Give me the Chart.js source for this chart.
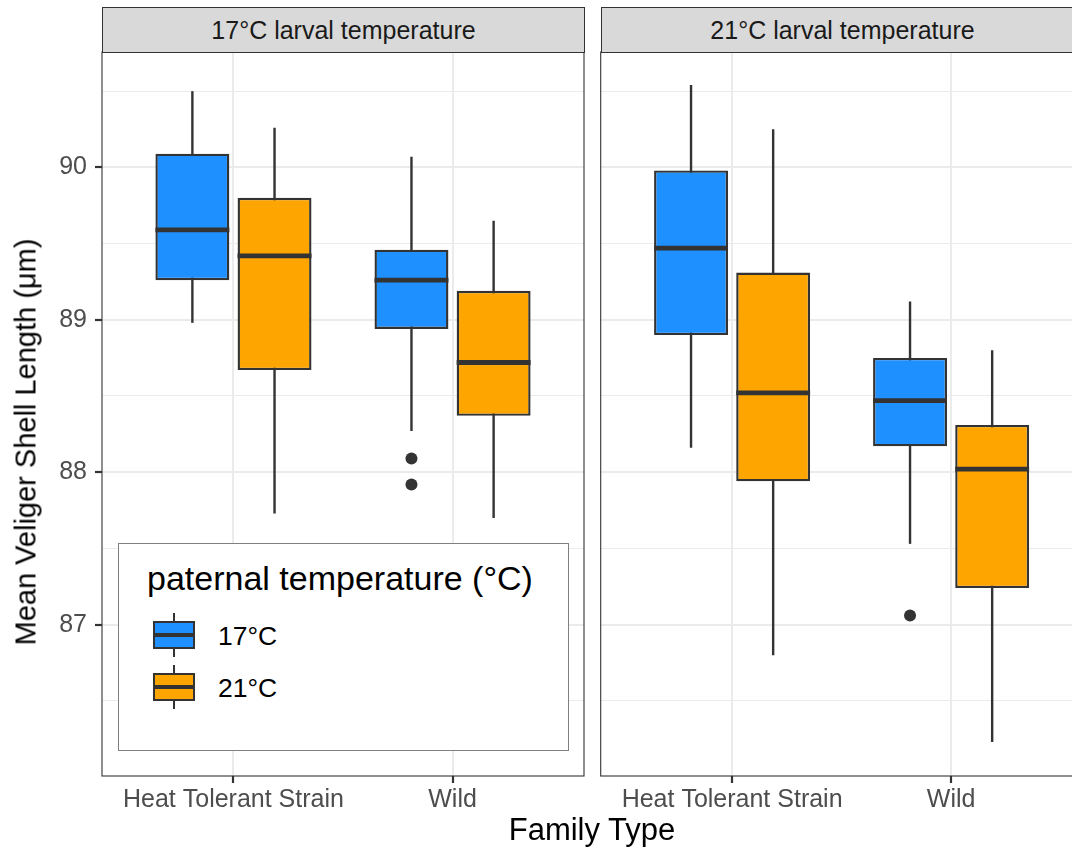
<!DOCTYPE html>
<html>
<head>
<meta charset="utf-8">
<script src="https://cdn.jsdelivr.net/npm/chart.js@4.4.1/dist/chart.umd.min.js"></script>
<style>
  html, body { margin:0; padding:0; width:1072px; height:852px; overflow:hidden; background:#fff;
    font-family:"Liberation Sans", Arial, Helvetica, sans-serif; }
  canvas { position:absolute; top:0; }
  .strip { position:absolute; top:7px; height:46px; background:#D9D9D9; border:1px solid #333;
    box-sizing:border-box; text-align:center; font-size:25px; line-height:44px; color:#1A1A1A; white-space:nowrap; }
  #ytitle { position:absolute; left:26px; top:442px; transform:translate(-50%,-50%) rotate(-90deg);
    font-size:29px; color:#000; white-space:nowrap; }
  #xtitle { position:absolute; left:592px; top:814px; transform:translateX(-50%); font-size:31px; line-height:31px;
    color:#000; white-space:nowrap; }
  #legend { position:absolute; left:118px; top:543px; width:451px; height:208px; background:#fff;
    border:1.4px solid #808080; box-sizing:border-box; }
  #legend .lt { position:absolute; left:28px; top:17px; font-size:34px; line-height:34px; color:#000; white-space:nowrap; }
  #legend .lab { position:absolute; left:99px; font-size:26.5px; line-height:26.5px; color:#000; white-space:nowrap; }
  #legend .wh { position:absolute; width:2.4px; background:#333; }
  #legend .bx { position:absolute; border:2.2px solid #333; box-sizing:border-box; }
  #legend .md { position:absolute; height:3.6px; background:#333; }
</style>
</head>
<body>
<canvas id="c1"></canvas>
<canvas id="c2"></canvas>
<div class="strip" id="s1" style="left:102px;width:483px;"></div>
<div class="strip" id="s2" style="left:601px;width:483px;"></div>
<div id="ytitle"></div>
<div id="xtitle"></div>
<div id="legend"></div>

<script>
// ---------------- data ----------------
const categories = ["Heat Tolerant Strain", "Wild"];
const panelTitles = ["17°C larval temperature", "21°C larval temperature"];
const seriesNames = ["17°C", "21°C"];
const seriesColors = ["#1E90FF", "#FFA500"];
const yTitle = "Mean Veliger Shell Length (μm)";
const xTitle = "Family Type";
const legendTitle = "paternal temperature (°C)";

// [lower whisker, Q1, median, Q3, upper whisker] per category
const larv17_pat17 = [[88.98, 89.26, 89.59, 90.09, 90.50], [88.27, 88.94, 89.26, 89.46, 90.07]];
const larv17_pat21 = [[87.73, 88.67, 89.42, 89.80, 90.26], [87.70, 88.37, 88.72, 89.19, 89.65]];
const larv21_pat17 = [[88.16, 88.90, 89.47, 89.98, 90.54], [87.53, 88.17, 88.47, 88.75, 89.12]];
const larv21_pat21 = [[86.80, 87.94, 88.52, 89.31, 90.25], [86.23, 87.24, 88.02, 88.31, 88.80]];
// outliers per category
const larv17_pat17_out = [[], [88.09, 87.92]];
const larv17_pat21_out = [[], []];
const larv21_pat17_out = [[], [87.06]];
const larv21_pat21_out = [[], []];

const yMin = 86.007, yMax = 90.757;

// ---------------- styling ----------------
const FONT = '"Liberation Sans", Arial, Helvetica, sans-serif';
const LINE = '#333333';

const boxParts = {
  id: 'boxParts',
  beforeDatasetsDraw(chart) {
    const ctx = chart.ctx, ys = chart.scales.y;
    ctx.save();
    ctx.strokeStyle = LINE; ctx.lineWidth = 2.4; ctx.lineCap = 'butt';
    chart.data.datasets.forEach((ds, i) => {
      chart.getDatasetMeta(i).data.forEach((el, j) => {
        const s = ds.stats[j];
        ctx.beginPath();
        ctx.moveTo(el.x, ys.getPixelForValue(s[0]));
        ctx.lineTo(el.x, ys.getPixelForValue(s[4]));
        ctx.stroke();
      });
    });
    ctx.restore();
  },
  afterDatasetsDraw(chart) {
    const ctx = chart.ctx, ys = chart.scales.y;
    ctx.save();
    chart.data.datasets.forEach((ds, i) => {
      chart.getDatasetMeta(i).data.forEach((el, j) => {
        const s = ds.stats[j];
        const half = el.width / 2;
        ctx.strokeStyle = LINE; ctx.lineWidth = 4.8; ctx.lineCap = 'butt';
        const my = ys.getPixelForValue(s[2]);
        ctx.beginPath(); ctx.moveTo(el.x - half, my); ctx.lineTo(el.x + half, my); ctx.stroke();
        ctx.fillStyle = LINE;
        (ds.outliers[j] || []).forEach(v => {
          ctx.beginPath(); ctx.arc(el.x, ys.getPixelForValue(v), 6, 0, Math.PI * 2); ctx.fill();
        });
      });
    });
    ctx.restore();
  },
  afterDraw(chart) {
    const a = chart.chartArea, ctx = chart.ctx;
    ctx.save();
    ctx.strokeStyle = LINE; ctx.lineWidth = 1.1;
    ctx.strokeRect(a.left, a.top, a.right - a.left, a.bottom - a.top);
    ctx.restore();
  }
};

function makeDataset(name, color, stats, outs) {
  return {
    label: name,
    data: stats.map((s, i) => ({ x: i + 1, y: [s[1], s[3]] })),
    stats: stats,
    outliers: outs,
    backgroundColor: color,
    borderColor: LINE,
    borderWidth: 2.4,
    borderSkipped: false,
    categoryPercentage: 0.75,
    barPercentage: 0.9
  };
}

function makeChart(id, left, width, datasets, showY, padLeft, padRight) {
  const cv = document.getElementById(id);
  cv.width = width; cv.height = 852;
  cv.style.left = left + 'px';
  cv.style.width = width + 'px'; cv.style.height = '852px';
  return new Chart(cv, {
    type: 'bar',
    data: { datasets },
    plugins: [boxParts],
    options: {
      responsive: false,
      animation: false,
      events: [],
      layout: { padding: { top: 52, left: padLeft, right: padRight, bottom: 0 } },
      plugins: { legend: { display: false }, tooltip: { enabled: false } },
      scales: {
        x: {
          type: 'linear', min: 0.4, max: 2.6, offset: false,
          afterFit: s => { s.height = 76; },
          border: { display: false },
          grid: { offset: false, color: '#EBEBEB', lineWidth: 2, drawTicks: true, tickLength: 7, tickColor: LINE, tickWidth: 2.2 },
          ticks: {
            stepSize: 1, includeBounds: false, autoSkip: false, maxRotation: 0, padding: 2,
            color: '#4D4D4D', font: { family: FONT, size: 25 },
            callback: v => (Number.isInteger(v) && categories[v - 1]) ? categories[v - 1] : ''
          }
        },
        y: {
          type: 'linear', min: yMin, max: yMax,
          afterFit: s => { s.width = showY ? 102 : 0; },
          border: { display: false },
          grid: {
            color: '#EBEBEB',
            lineWidth: c => (c.tick && Number.isInteger(c.tick.value)) ? 2 : 1.1,
            drawTicks: showY, tickLength: 7, tickWidth: 2.2,
            tickColor: c => (c.tick && Number.isInteger(c.tick.value)) ? LINE : 'rgba(0,0,0,0)'
          },
          ticks: {
            display: showY, stepSize: 0.5, includeBounds: false, padding: 8,
            color: '#4D4D4D', font: { family: FONT, size: 25 },
            callback: v => Number.isInteger(v) ? String(v) : ''
          }
        }
      }
    }
  });
}

makeChart('c1', 0, 590, [
  makeDataset(seriesNames[0], seriesColors[0], larv17_pat17, larv17_pat17_out),
  makeDataset(seriesNames[1], seriesColors[1], larv17_pat21, larv17_pat21_out)
], true, 0, 6);

makeChart('c2', 590, 500, [
  makeDataset(seriesNames[0], seriesColors[0], larv21_pat17, larv21_pat17_out),
  makeDataset(seriesNames[1], seriesColors[1], larv21_pat21, larv21_pat21_out)
], false, 10.7, 7.5);

// ---------------- text & legend ----------------
document.getElementById('s1').textContent = panelTitles[0];
document.getElementById('s2').textContent = panelTitles[1];
document.getElementById('ytitle').textContent = yTitle;
document.getElementById('xtitle').textContent = xTitle;

const lg = document.getElementById('legend');
const lt = document.createElement('div'); lt.className = 'lt'; lt.textContent = legendTitle; lg.appendChild(lt);
seriesNames.forEach((n, i) => {
  const top = 77 + i * 52;
  const wh = document.createElement('div'); wh.className = 'wh';
  wh.style.left = '54px'; wh.style.top = (top - 8) + 'px'; wh.style.height = '44px'; lg.appendChild(wh);
  const bx = document.createElement('div'); bx.className = 'bx';
  bx.style.left = '34px'; bx.style.top = top + 'px'; bx.style.width = '42px'; bx.style.height = '28px';
  bx.style.background = seriesColors[i]; lg.appendChild(bx);
  const md = document.createElement('div'); md.className = 'md';
  md.style.left = '34px'; md.style.top = (top + 12.2) + 'px'; md.style.width = '42px'; lg.appendChild(md);
  const lb = document.createElement('div'); lb.className = 'lab';
  lb.style.top = (top + 2) + 'px'; lb.textContent = n; lg.appendChild(lb);
});
</script>
</body>
</html>
